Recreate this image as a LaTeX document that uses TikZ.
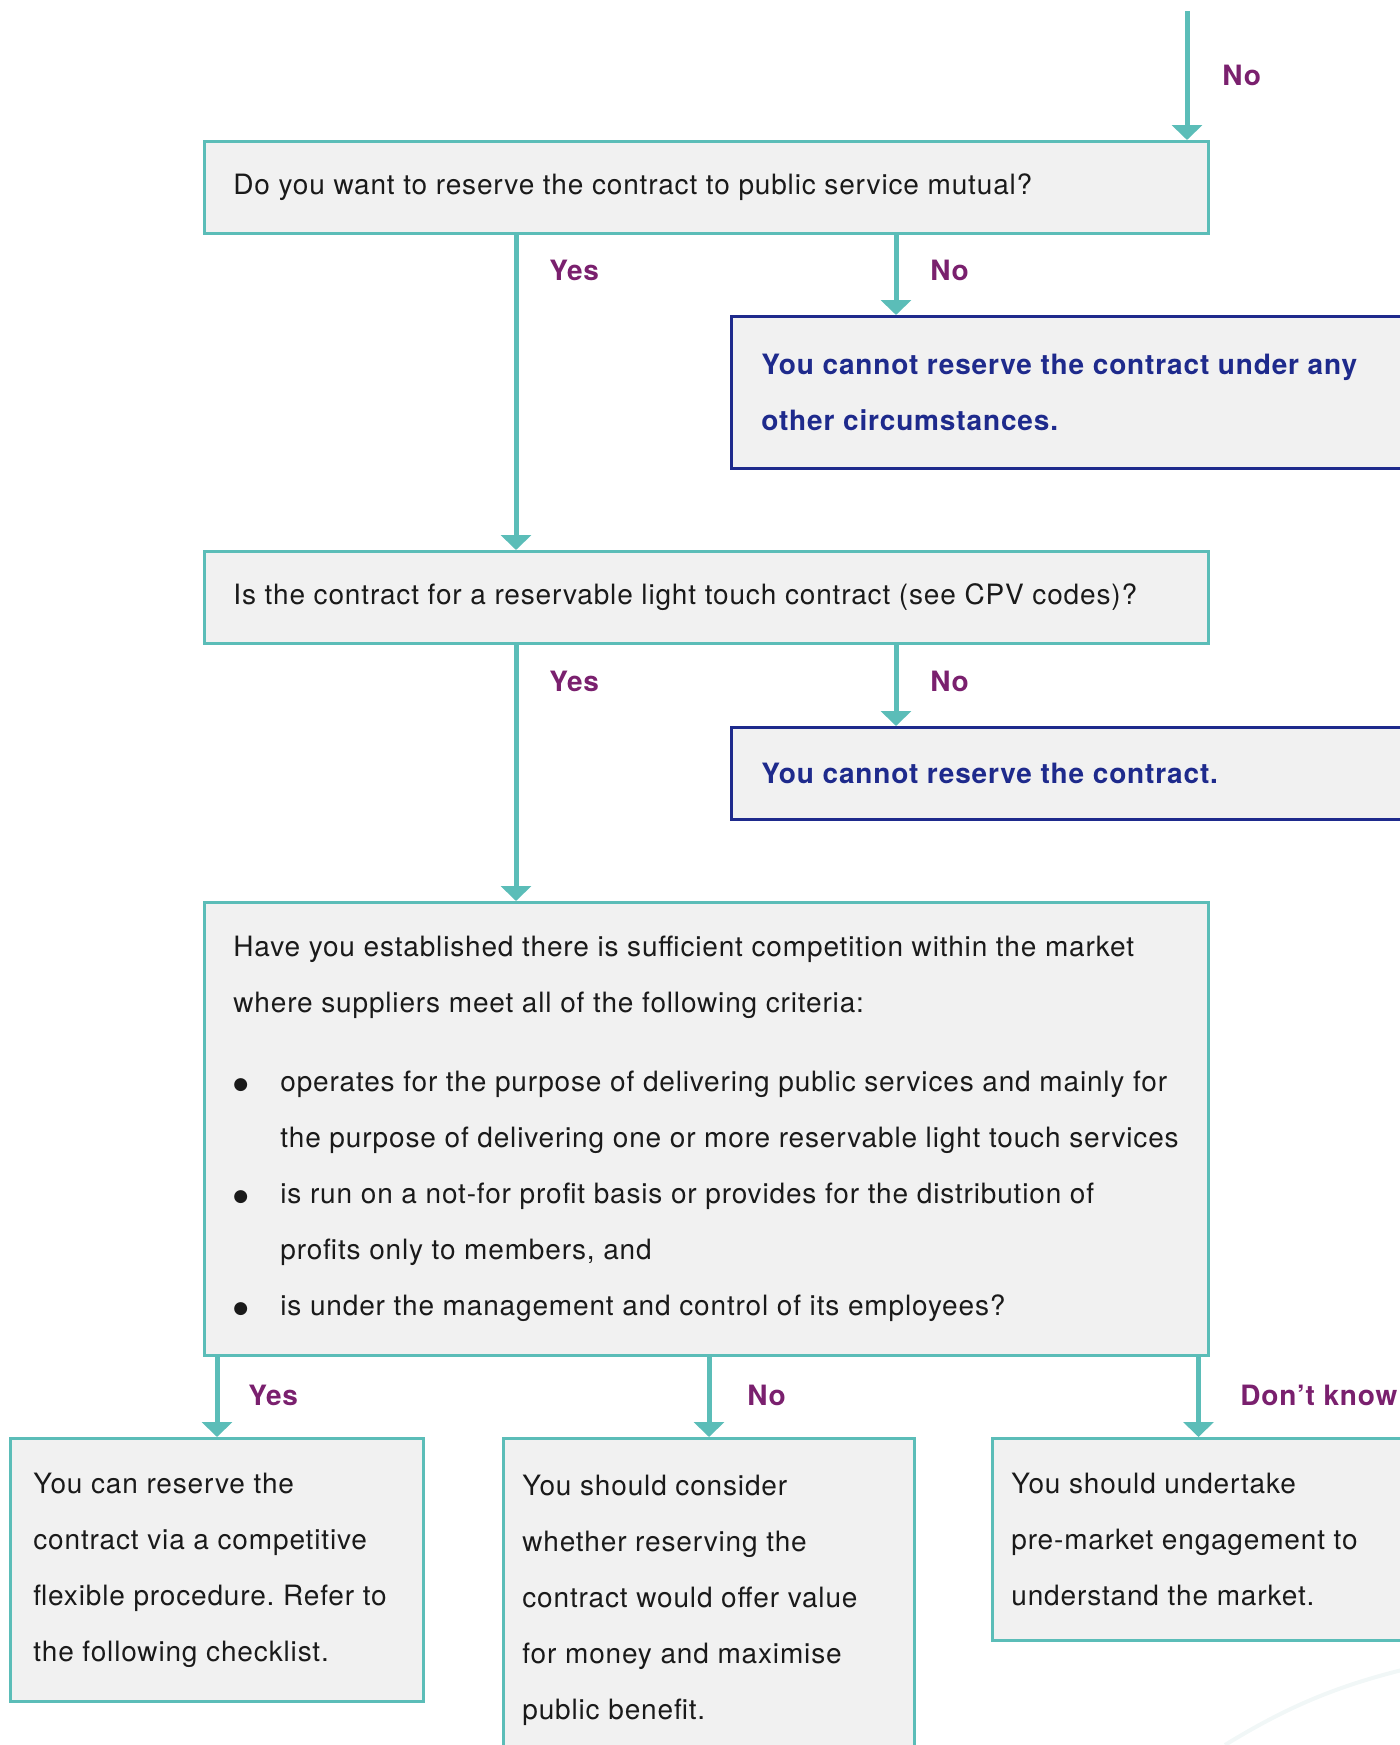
\documentclass[tikz,border=0pt]{standalone}
\usepackage{fontspec}
\setmainfont[LetterSpace=3]{TeX Gyre Heros}
\newfontfamily\dotfont{DejaVu Sans}
\usetikzlibrary{arrows.meta}
\frenchspacing
\definecolor{flowteal}{HTML}{5BBDB8}
\definecolor{flowpurple}{HTML}{7A206E}
\definecolor{flowblue}{HTML}{1E2A8C}
\definecolor{boxgrey}{HTML}{F1F1F1}
\definecolor{ink}{HTML}{1A1A1A}
\definecolor{arcgrey}{HTML}{F1F7F7}
% list bullet and hanging indent used inside the criteria box
\newcommand{\critem}{\makebox[23.5pt][l]{\raisebox{1.2pt}{\dotfont\fontsize{8.5}{10}\selectfont ●}}}
\newcommand{\crhang}{\hspace*{23.5pt}}
\begin{document}
\begin{tikzpicture}[x=0.5pt,y=-0.5pt,
  box/.style={draw=flowteal, line width=1.5pt, fill=boxgrey, anchor=north west, inner sep=0pt},
  stopbox/.style={box, draw=flowblue},
  txt/.style={anchor=west, inner sep=0pt, align=left, text=ink,
    font=\fontsize{14}{28}\selectfont},
  stoptxt/.style={txt, text=flowblue, font=\fontsize{14}{28}\selectfont\bfseries},
  lab/.style={anchor=base west, inner sep=0pt, text=flowpurple,
    font=\fontsize{14}{17}\selectfont\bfseries},
  arr/.style={draw=flowteal, line width=2.5pt, -{Triangle[width=15pt,length=7.5pt]}}]
\useasboundingbox (0,0) rectangle (1400,1745);
\clip (0,0) rectangle (1400,1745);

% faint decorative arc, lower right
\draw[arcgrey, line width=2pt] (1225,1745) .. controls (1290,1705) and (1340,1685) .. (1410,1668);

% boxes
\node[box, minimum width=502pt, minimum height=46pt] (q1) at (203,140) {};
\node[stopbox, minimum width=345pt, minimum height=76pt] (s1) at (730,315) {};
\node[box, minimum width=502pt, minimum height=46pt] (q2) at (203,550) {};
\node[stopbox, minimum width=345pt, minimum height=46pt] (s2) at (730,726) {};
\node[box, minimum width=502pt, minimum height=226.5pt] (q3) at (203,901) {};
\node[box, minimum width=206.5pt, minimum height=131.5pt] (a1) at (9,1437) {};
\node[box, minimum width=205.5pt, minimum height=161.5pt] (a2) at (502,1437) {};
\node[box, minimum width=206pt, minimum height=101pt] (a3) at (991,1437) {};

% box texts
\node[txt] (t1) at ([xshift=15pt]q1.west) {Do you want to reserve the contract to public service mutual?};
\node[stoptxt] (ts1) at ([xshift=15.5pt]s1.west) {You cannot reserve the contract under any\\other circumstances.};
\node[txt] (t2) at ([xshift=15pt]q2.west) {Is the contract for a reservable light touch contract (see CPV codes)?};
\node[stoptxt] (ts2) at ([xshift=15.5pt]s2.west) {You cannot reserve the contract.};
\node[txt] (t3) at ([xshift=15pt]q3.west) {Have you established there is sufficient competition within the market\\
where suppliers meet all of the following criteria:\\[11.5pt]
\critem operates for the purpose of delivering public services and mainly for\\
\crhang the purpose of delivering one or more reservable light touch services\\
\critem is run on a not-for profit basis or provides for the distribution of\\
\crhang profits only to members, and\\
\critem is under the management and control of its employees?};
\node[txt] (ta1) at ([xshift=12pt]a1.west) {You can reserve the\\contract via a competitive\\flexible procedure. Refer to\\the following checklist.};
\node[txt] (ta2) at ([xshift=10pt]a2.west) {You should consider\\whether reserving the\\contract would offer value\\for money and maximise\\public benefit.};
\node[txt] (ta3) at ([xshift=10pt]a3.west) {You should undertake\\pre-market engagement to\\understand the market.};

% connector columns
\coordinate (top) at (1187,11);
\coordinate (cyes) at (516,0);
\coordinate (cno) at (896,0);

% connectors
\draw[arr] (top) -- (top |- q1.north);
\draw[arr] (q1.south -| cyes) -- (q2.north -| cyes);
\draw[arr] (q1.south -| cno) -- (s1.north -| cno);
\draw[arr] (q2.south -| cyes) -- (q3.north -| cyes);
\draw[arr] (q2.south -| cno) -- (s2.north -| cno);
\draw[arr] (q3.south -| a1.north) -- (a1.north);
\draw[arr] (q3.south -| a2.north) -- (a2.north);
\draw[arr] (q3.south -| a3.north) -- (a3.north);

% branch labels
\node[lab] (l0) at (1222,85) {No};
\node[lab] (l1y) at (549,280) {Yes};
\node[lab] (l1n) at (930,280) {No};
\node[lab] (l2y) at (549,691) {Yes};
\node[lab] (l2n) at (930,691) {No};
\node[lab] (l3y) at (248,1405) {Yes};
\node[lab] (l3n) at (747,1405) {No};
\node[lab] (l3d) at (1240,1405) {Don’t know};
\end{tikzpicture}
\end{document}
